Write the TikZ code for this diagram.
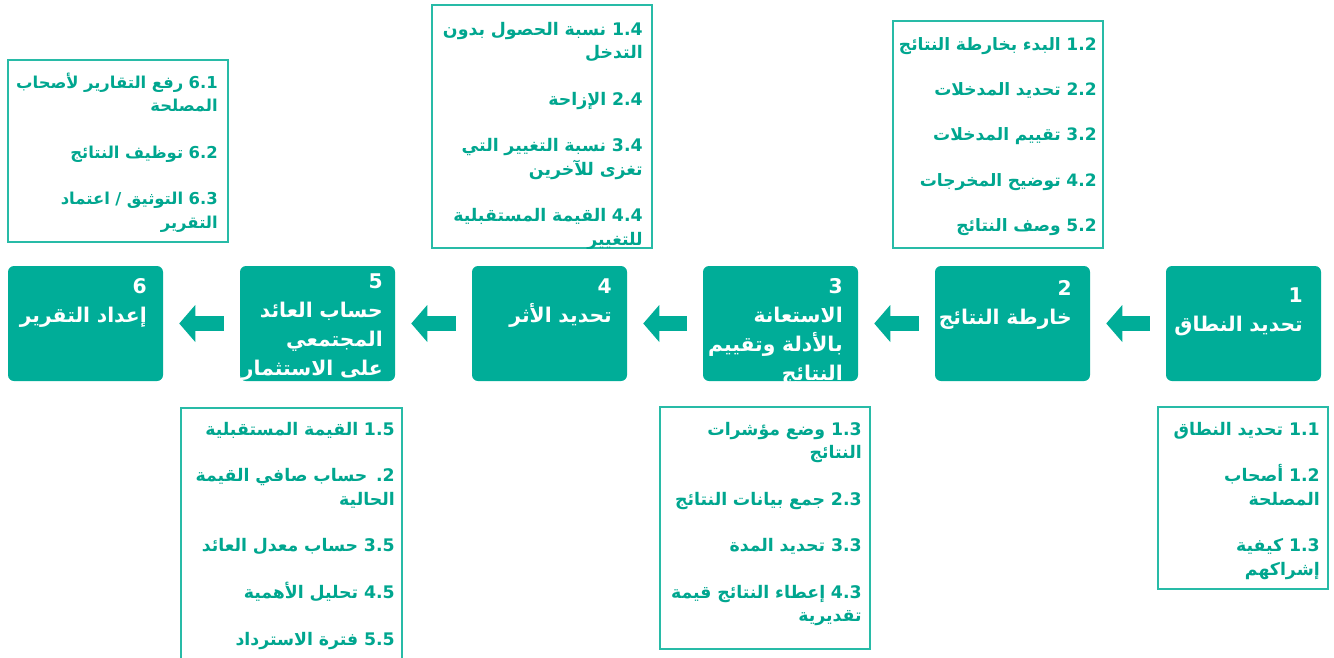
\documentclass[tikz,border=0pt]{standalone}
\usepackage{fontspec}
\newfontfamily\arabicfont[Script=Arabic]{DejaVu Sans}
\TeXXeTstate=1
\usepackage{tikz}
\usetikzlibrary{arrows.meta, positioning}
\definecolor{tealbox}{RGB}{0,173,152}
\definecolor{tealtext}{RGB}{0,166,143}
\definecolor{tealline}{RGB}{40,187,167}
\newcommand{\rl}[1]{\beginR #1\endR}
\tikzset{
  stepbox/.style={fill=tealbox, rounded corners=4.5pt, minimum width=116.25pt, minimum height=86.25pt, inner sep=0pt},
  steptext/.style={font=\arabicfont\bfseries\fontsize{15.2}{21.75}\selectfont, text=white, align=right, text width=150pt, inner sep=0pt, anchor=base east},
  listtext/.style={font=\arabicfont\bfseries\fontsize{13}{17.5}\selectfont, text=tealtext, align=right, text width=250pt, inner sep=0pt, anchor=base east},
  listframe/.style={draw=tealline, line width=1pt},
  flow/.style={draw=tealbox, line width=11.25pt, shorten <=12pt, shorten >=12pt, -{Triangle[length=12pt, width=27.75pt, line width=0pt]}}
}
\begin{document}
\begin{tikzpicture}[x=0.75pt, y=-0.75pt]
	\useasboundingbox (0,0) rectangle (1334,657);
	\clip (0,0) rectangle (1334,657);

	\node[stepbox] (b1) at (1243.5,323.5) {};
	\node[stepbox] (b2) at (1012.5,323.5) {};
	\node[stepbox] (b3) at (780.5,323.5) {};
	\node[stepbox] (b4) at (549.5,323.5) {};
	\node[stepbox] (b5) at (317.5,323.5) {};
	\node[stepbox] (b6) at (85.5,323.5) {};

	\draw[flow] (b1) -- (b2);
	\draw[flow] (b2) -- (b3);
	\draw[flow] (b3) -- (b4);
	\draw[flow] (b4) -- (b5);
	\draw[flow] (b5) -- (b6);

	\node[steptext] (n1) at (1303,302) {\rl{1}\\\rl{تحديد النطاق}};
	\node[steptext] (n2) at (1072,295) {\rl{2}\\\rl{خارطة النتائج}};
	\begin{scope}
		\clip[rounded corners=4.5pt] (b3.south west) rectangle (b3.north east);
		\node[steptext] (n3) at (843,293) {\rl{3}\\\rl{الاستعانة}\\\rl{بالأدلة وتقييم}\\\rl{النتائج}};
	\end{scope}
	\node[steptext] (n4) at (612,293) {\rl{4}\\\rl{تحديد الأثر}};
	\begin{scope}
		\clip[rounded corners=4.5pt] (b5.south west) rectangle (b5.north east);
		\node[steptext] (n5) at (383,288) {\rl{5}\\\rl{حساب العائد}\\\rl{المجتمعي}\\\rl{على الاستثمار}};
	\end{scope}
	\node[steptext] (n6) at (147,293) {\rl{6}\\\rl{إعداد التقرير}};

	\draw[listframe] (8,60) rectangle (228,242);
	\draw[listframe] (432,5) rectangle (652,248);
	\draw[listframe] (893,21) rectangle (1103,248);
	\draw[listframe] (181,408) rectangle (402,670);
	\draw[listframe] (660,407) rectangle (870,649);
	\draw[listframe] (1158,407) rectangle (1328,589);

	\node[listtext, font=\arabicfont\bfseries\fontsize{12.3}{17.5}\selectfont] (l6) at (218,88) {\rl{6.1 رفع التقارير لأصحاب}\\\rl{المصلحة}\\[\baselineskip]
		\rl{6.2 توظيف النتائج}\\[\baselineskip]
		\rl{6.3 التوثيق / اعتماد}\\\rl{التقرير}};
	\begin{scope}
		\clip (432,5) rectangle (652,248);
		\node[listtext] (l4) at (643,35) {\rl{1.4 نسبة الحصول بدون}\\\rl{التدخل}\\[\baselineskip]
			\rl{2.4 الإزاحة}\\[\baselineskip]
			\rl{3.4 نسبة التغيير التي}\\\rl{تغزى للآخرين}\\[\baselineskip]
			\rl{4.4 القيمة المستقبلية}\\\rl{للتغيير}};
	\end{scope}
	\node[listtext, font=\arabicfont\bfseries\fontsize{12.8}{17.06}\selectfont] (l2) at (1097,50) {\rl{1.2 البدء بخارطة النتائج}\\[\baselineskip]
		\rl{2.2 تحديد المدخلات}\\[\baselineskip]
		\rl{3.2 تقييم المدخلات}\\[\baselineskip]
		\rl{4.2 توضيح المخرجات}\\[\baselineskip]
		\rl{5.2 وصف النتائج}};
	\node[listtext] (l5) at (395,435) {\rl{1.5 القيمة المستقبلية}\\[\baselineskip]
		\rl{2. حساب صافي القيمة}\\\rl{الحالية}\\[\baselineskip]
		\rl{3.5 حساب معدل العائد}\\[\baselineskip]
		\rl{4.5 تحليل الأهمية}\\[\baselineskip]
		\rl{5.5 فترة الاسترداد}};
	\node[listtext] (l3) at (862,435) {\rl{1.3 وضع مؤشرات}\\\rl{النتائج}\\[\baselineskip]
		\rl{2.3 جمع بيانات النتائج}\\[\baselineskip]
		\rl{3.3 تحديد المدة}\\[\baselineskip]
		\rl{4.3 إعطاء النتائج قيمة}\\\rl{تقديرية}};
	\node[listtext] (l1) at (1320,435) {\rl{1.1 تحديد النطاق}\\[\baselineskip]
		\rl{1.2 أصحاب}\\\rl{المصلحة}\\[\baselineskip]
		\rl{1.3 كيفية}\\\rl{إشراكهم}};
\end{tikzpicture}
\end{document}
